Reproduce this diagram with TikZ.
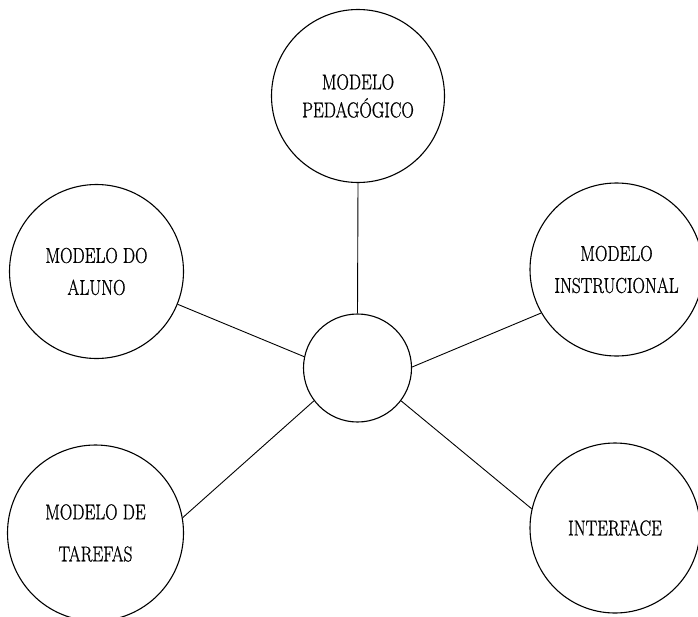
\documentclass[tikz,border=0pt]{standalone}
\usepackage{fontspec}
\setmainfont{Latin Modern Roman}[FakeStretch=0.8, FakeBold=0.8]
\begin{document}
\begin{tikzpicture}[x=1pt,y=-1pt,
  model/.style={draw, circle, line width=1.1pt, inner sep=0pt, align=center,
    font=\fontsize{21.5}{28}\selectfont},
  hub/.style={draw, circle, line width=1.1pt, inner sep=0pt, minimum size=108pt},
  link/.style={line width=0.9pt}]
  \useasboundingbox (0,0) rectangle (698,616);

  % central hub and the five surrounding models
  \node[hub] (c) at (357.5,368) {};
  \node[model, minimum size=173pt] (ped) at (358,96) {MODELO\\PEDAGÓGICO};
  \node[model, minimum size=174pt] (alu) at (96.5,271.5) {MODELO DO\\[4pt]ALUNO};
  \node[model, minimum size=173pt] (ins) at (616.5,269.5) {MODELO\\[4pt]INSTRUCIONAL};
  \node[model, minimum size=176pt] (tar) at (95.5,533) {MODELO DE\\[14pt]TAREFAS};
  \node[model, minimum size=170pt] (int) at (615,528) {INTERFACE};

  % spokes from the hub
  \draw[link] (c.north) -- (ped.south);
  \draw[link] (c.168) -- (alu.-22);
  \draw[link] (c.1) -- (ins.210);
  \draw[link] (c.217) -- (tar.10);
  \draw[link] (c.-37) -- (int.167);
\end{tikzpicture}
\end{document}
